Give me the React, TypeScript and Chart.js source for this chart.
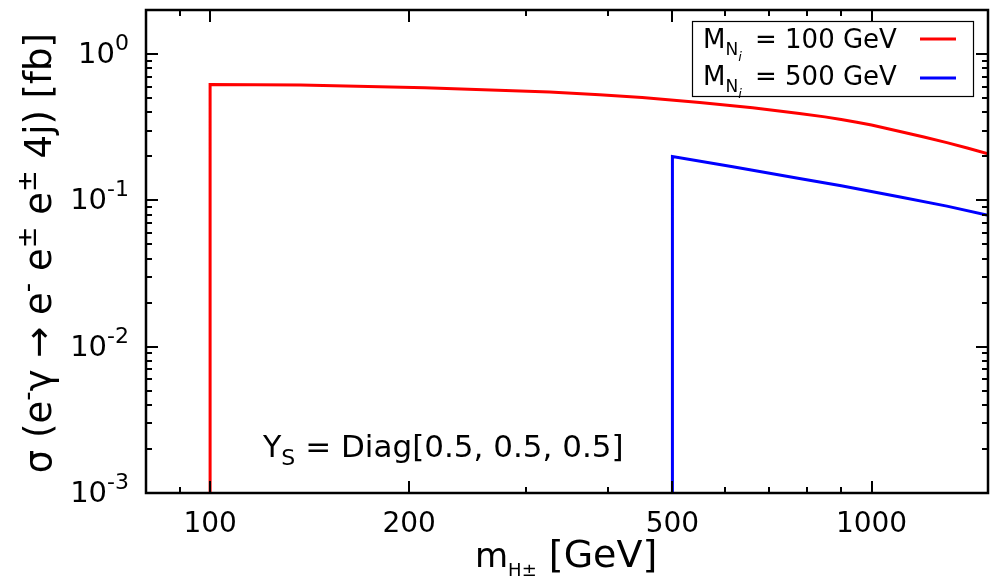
import React, { useEffect, useRef } from "react";
import { Chart, registerables } from "chart.js";
Chart.register(...registerables);

// ---- data ----
const massRed = [100, 100, 137, 211, 326, 388, 450, 550, 661, 778, 850, 900, 950, 1000, 1100, 1200, 1300, 1400, 1500];
const xsecRed = [1e-4, 0.62, 0.614, 0.588, 0.551, 0.528, 0.505, 0.467, 0.43, 0.393, 0.372, 0.357, 0.342, 0.327, 0.297, 0.271, 0.248, 0.227, 0.208];
const massBlue = [500, 500, 617, 778, 900, 1100, 1300, 1500];
const xsecBlue = [1e-4, 0.199, 0.17, 0.141, 0.126, 0.106, 0.0913, 0.079];

const xMajorTicks = [100, 200, 500, 1000];
const xMinorTicks = [90, 300, 400, 600, 700, 800, 900];
const yMajorTicks = [1e-3, 1e-2, 1e-1, 1];
const yExponents = ["-3", "-2", "-1", "0"];
const yMinorFactors = [2, 3, 4, 5, 6, 7, 8, 9];
const legendMasses = ["100 GeV", "500 GeV"];
const seriesColors = ["#ff0000", "#0000ff"];

const FONT = '"DejaVu Sans", Verdana, sans-serif';

type Run = { t: string; size: number; dy: number; italic?: boolean };

function setFont(ctx: CanvasRenderingContext2D, r: Run) {
  ctx.font = `${r.italic ? "italic " : ""}${r.size}px ${FONT}`;
}
function measureRuns(ctx: CanvasRenderingContext2D, runs: Run[]) {
  let w = 0;
  for (const r of runs) {
    setFont(ctx, r);
    w += ctx.measureText(r.t).width;
  }
  return w;
}
function drawRuns(ctx: CanvasRenderingContext2D, x: number, y: number, runs: Run[]) {
  ctx.textAlign = "left";
  ctx.textBaseline = "alphabetic";
  for (const r of runs) {
    setFont(ctx, r);
    ctx.fillText(r.t, x, y + r.dy);
    x += ctx.measureText(r.t).width;
  }
  return x;
}

const decorPlugin = {
  id: "decor",
  afterDraw(chart: any) {
    const ctx: CanvasRenderingContext2D = chart.ctx;
    const { left, right, top, bottom } = chart.chartArea;
    const xs = chart.scales.x;
    const ys = chart.scales.y;
    ctx.save();
    ctx.fillStyle = "#000";
    ctx.strokeStyle = "#000";

    // ticks (inward, mirrored)
    ctx.lineWidth = 2;
    const vTick = (v: number, len: number) => {
      const px = Math.round(xs.getPixelForValue(v));
      ctx.beginPath();
      ctx.moveTo(px, bottom);
      ctx.lineTo(px, bottom - len);
      ctx.moveTo(px, top);
      ctx.lineTo(px, top + len);
      ctx.stroke();
    };
    xMajorTicks.forEach((v) => vTick(v, 12));
    xMinorTicks.forEach((v) => vTick(v, 6));
    const hTick = (v: number, len: number) => {
      const py = Math.round(ys.getPixelForValue(v));
      ctx.beginPath();
      ctx.moveTo(left, py);
      ctx.lineTo(left + len, py);
      ctx.moveTo(right, py);
      ctx.lineTo(right - len, py);
      ctx.stroke();
    };
    yMajorTicks.forEach((v) => hTick(v, 12));
    yMajorTicks.slice(0, 3).forEach((d) => yMinorFactors.forEach((k) => hTick(k * d, 6)));

    // frame
    ctx.lineWidth = 2.5;
    ctx.strokeRect(left, top, right - left, bottom - top);

    // x tick labels
    ctx.font = `28px ${FONT}`;
    ctx.textAlign = "center";
    ctx.textBaseline = "alphabetic";
    xMajorTicks.forEach((v) => {
      ctx.fillText(String(v), xs.getPixelForValue(v), 532);
    });

    // y tick labels 10^n
    yMajorTicks.forEach((v, i) => {
      const py = ys.getPixelForValue(v);
      const runs: Run[] = [
        { t: "10", size: 29, dy: 9 },
        { t: yExponents[i], size: 22, dy: -4 },
      ];
      const w = measureRuns(ctx, runs);
      drawRuns(ctx, left - 17 - w, py, runs);
    });

    // x title
    drawRuns(ctx, 475, 567, [
      { t: "m", size: 34, dy: 0 },
      { t: "H±", size: 18, dy: 9 },
      { t: " [GeV]", size: 38, dy: 0 },
    ]);

    // y title (rotated)
    const yRuns: Run[] = [
      { t: "σ (e", size: 37, dy: 0 },
      { t: "-", size: 26, dy: -15 },
      { t: "γ → e", size: 37, dy: 0 },
      { t: "-", size: 26, dy: -15 },
      { t: " e", size: 37, dy: 0 },
      { t: "±", size: 26, dy: -15 },
      { t: " e", size: 37, dy: 0 },
      { t: "±", size: 26, dy: -15 },
      { t: " 4j) [fb]", size: 37, dy: 0 },
    ];
    const yw = measureRuns(ctx, yRuns);
    ctx.save();
    ctx.translate(51, 33 + yw);
    ctx.rotate(-Math.PI / 2);
    drawRuns(ctx, 0, 0, yRuns);
    ctx.restore();

    // annotation
    drawRuns(ctx, 263, 457, [
      { t: "Y", size: 30, dy: 0 },
      { t: "S", size: 22, dy: 8 },
      { t: " = Diag[0.5, 0.5, 0.5]", size: 31, dy: 0 },
    ]);

    // legend
    ctx.fillStyle = "#fff";
    ctx.fillRect(692, 21, 281, 75);
    ctx.fillStyle = "#000";
    ctx.lineWidth = 1.2;
    ctx.strokeRect(692.5, 21.5, 281, 75);
    const baselines = [48, 85];
    const lineYs = [39, 78];
    legendMasses.forEach((m, i) => {
      drawRuns(ctx, 703, baselines[i], [
        { t: "M", size: 26, dy: 0 },
        { t: "N", size: 17, dy: 7 },
        { t: "i", size: 13, dy: 13, italic: true },
      ]);
      drawRuns(ctx, 755, baselines[i], [{ t: "= " + m, size: 26, dy: 0 }]);
      ctx.strokeStyle = seriesColors[i];
      ctx.lineWidth = 3;
      ctx.beginPath();
      ctx.moveTo(920, lineYs[i]);
      ctx.lineTo(956, lineYs[i]);
      ctx.stroke();
    });
    ctx.restore();
  },
};

export default function App() {
  const ref = useRef<HTMLCanvasElement | null>(null);
  useEffect(() => {
    document.body.style.margin = "0";
    document.body.style.overflow = "hidden";
    const canvas = ref.current!;
    const chart = new Chart(canvas, {
      type: "line",
      data: {
        datasets: [
          {
            label: "M_Ni = 100 GeV",
            data: massRed.map((m, i) => ({ x: m, y: xsecRed[i] })),
            borderColor: seriesColors[0],
            borderWidth: 3,
            pointRadius: 0,
            tension: 0,
            fill: false,
            clip: 0,
          },
          {
            label: "M_Ni = 500 GeV",
            data: massBlue.map((m, i) => ({ x: m, y: xsecBlue[i] })),
            borderColor: seriesColors[1],
            borderWidth: 3,
            pointRadius: 0,
            tension: 0,
            fill: false,
            clip: 0,
          },
        ],
      },
      options: {
        animation: false,
        responsive: false,
        devicePixelRatio: 1,
        layout: { padding: { top: 10, right: 4, left: 0, bottom: 0 } },
        plugins: { legend: { display: false }, tooltip: { enabled: false } },
        scales: {
          x: {
            type: "logarithmic",
            min: 80,
            max: 1500,
            grid: { display: false },
            border: { display: false },
            ticks: { display: false },
            afterFit: (s: any) => {
              s.height = 85;
            },
          },
          y: {
            type: "logarithmic",
            min: 1e-3,
            max: 2,
            grid: { display: false },
            border: { display: false },
            ticks: { display: false },
            afterFit: (s: any) => {
              s.width = 146;
            },
          },
        },
      } as any,
      plugins: [decorPlugin],
    });
    return () => chart.destroy();
  }, []);
  return (
    <canvas
      ref={ref}
      width={992}
      height={578}
      style={{ display: "block", width: 992, height: 578 }}
    />
  );
}
